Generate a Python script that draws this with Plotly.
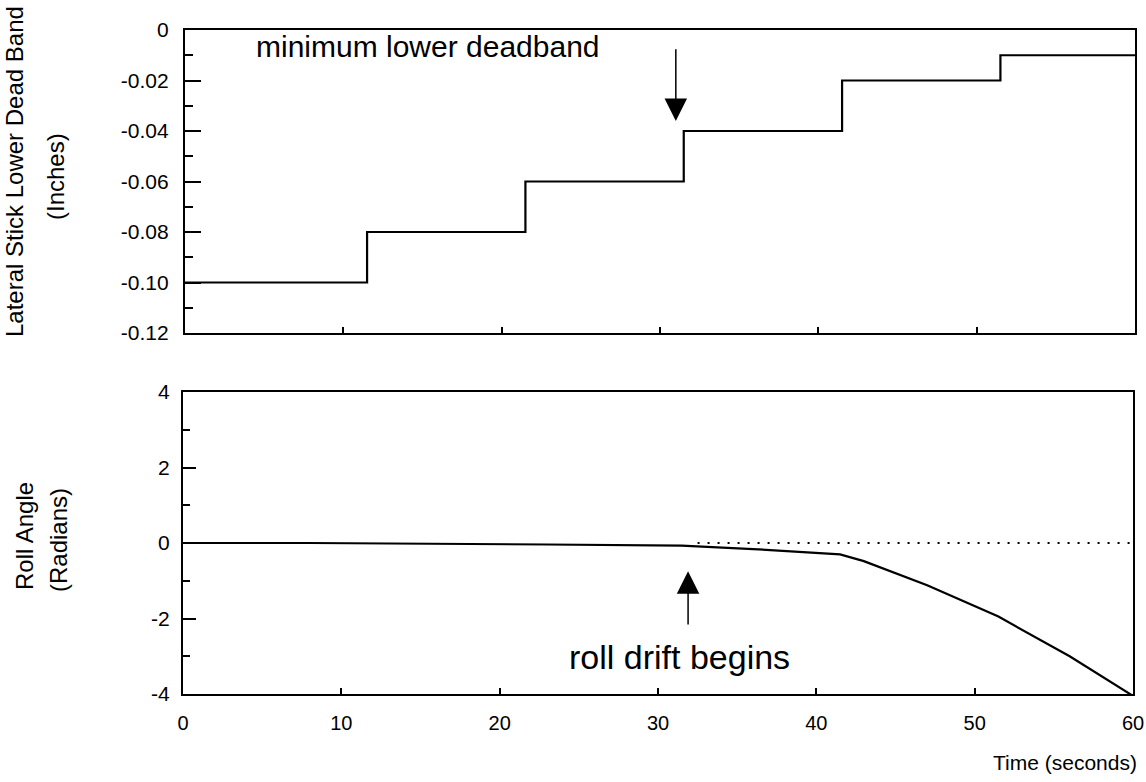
import plotly.graph_objects as go

# ---- data ----
step_time = [0, 11.5, 21.5, 31.5, 41.5, 51.5, 60]
deadband = [-0.10, -0.08, -0.06, -0.04, -0.02, -0.01, -0.01]

roll_time = [0, 8, 23, 31.5, 36, 41.5, 43, 47, 51.5, 56, 60]
roll_angle = [0, 0, -0.04, -0.07, -0.16, -0.30, -0.48, -1.12, -1.95, -3.0, -4.05]

ref_time = [32.5, 60]
ref_angle = [0, 0]

x_ticks = [0, 10, 20, 30, 40, 50, 60]
top_ticks = [0, -0.02, -0.04, -0.06, -0.08, -0.10, -0.12]
top_labels = ["0", "-0.02", "-0.04", "-0.06", "-0.08", "-0.10", "-0.12"]
bot_ticks = [4, 2, 0, -2, -4]
bot_labels = ["4", "2", "0", "-2", "-4"]

FONT = "Liberation Sans, Arial, sans-serif"
W, H = 1146, 782

fig = go.Figure()
fig.add_trace(go.Scatter(x=step_time, y=deadband, mode="lines", line=dict(color="black", width=2.2, shape="hv"),
                         xaxis="x", yaxis="y", showlegend=False))
fig.add_trace(go.Scatter(x=ref_time, y=ref_angle, mode="lines", line=dict(color="black", width=2.2, dash="2px,8px"),
                         xaxis="x2", yaxis="y2", showlegend=False))
fig.add_trace(go.Scatter(x=roll_time, y=roll_angle, mode="lines", line=dict(color="black", width=2.2),
                         xaxis="x2", yaxis="y2", showlegend=False))

def px_x(p):
    return p / W

def px_y(p):
    return 1 - p / H

axis_common = dict(showline=True, linecolor="black", linewidth=2.2, mirror=True, showgrid=False, zeroline=False,
                   ticks="inside", tickcolor="black", tickwidth=1.5, ticklabeloverflow="allow", automargin=False)

fig.update_layout(
    width=W, height=H, margin=dict(l=0, r=0, t=0, b=0, autoexpand=False),
    paper_bgcolor="white", plot_bgcolor="white",
    xaxis=dict(domain=[px_x(185), px_x(1135)], range=[0, 60], anchor="y", tickvals=x_ticks,
               showticklabels=False, ticklen=6, **axis_common),
    yaxis=dict(domain=[px_y(333), px_y(30)], range=[-0.12, 0], anchor="x", tickvals=top_ticks,
               ticktext=top_labels, ticklen=16, ticklabelstandoff=10,
               tickfont=dict(family=FONT, size=21, color="black"),
               minor=dict(dtick=0.01, tick0=0, ticklen=8, ticks="inside", tickcolor="black", tickwidth=1.5),
               **axis_common),
    xaxis2=dict(domain=[px_x(183), px_x(1133)], range=[0, 60], anchor="y2", tickvals=x_ticks,
                ticklen=6, ticklabelstandoff=10,
                tickfont=dict(family=FONT, size=20, color="black"), **axis_common),
    yaxis2=dict(domain=[px_y(694), px_y(392)], range=[-4, 4], anchor="x2", tickvals=bot_ticks,
                ticktext=bot_labels, ticklen=13, ticklabelstandoff=7,
                tickfont=dict(family=FONT, size=21, color="black"),
                minor=dict(dtick=1, tick0=0, ticklen=7, ticks="inside", tickcolor="black", tickwidth=1.5),
                **axis_common),
)

ann_font = dict(family=FONT, size=24, color="black")
for text, x, y in [("Lateral Stick Lower Dead Band", 14, 172), ("(Inches)", 55, 177),
                   ("Roll Angle", 24, 536), ("(Radians)", 58, 540)]:
    fig.add_annotation(text=text, xref="paper", yref="paper", x=px_x(x), y=px_y(y), showarrow=False,
                       textangle=-90, xanchor="center", yanchor="middle", font=ann_font)

fig.add_annotation(text="Time (seconds)", xref="paper", yref="paper", x=px_x(1139), y=px_y(762),
                   showarrow=False, xanchor="right", yanchor="middle",
                   font=dict(family=FONT, size=21, color="black"))

# annotation texts
fig.add_annotation(text="minimum lower deadband", xref="paper", yref="paper", x=px_x(428), y=px_y(47),
                   showarrow=False, xanchor="center", yanchor="middle",
                   font=dict(family=FONT, size=30, color="black"))
fig.add_annotation(text="roll drift begins", xref="paper", yref="paper", x=px_x(679), y=px_y(657),
                   showarrow=False, xanchor="center", yanchor="middle",
                   font=dict(family=FONT, size=34, color="black"))

# arrows
fig.add_annotation(x=31.0, y=-0.036, ax=31.0, ay=-0.007, xref="x", yref="y", axref="x", ayref="y",
                   text="", showarrow=True, arrowhead=2, arrowsize=3, arrowwidth=1.5, arrowcolor="black")
fig.add_annotation(x=31.9, y=-0.75, ax=31.9, ay=-2.2, xref="x2", yref="y2", axref="x2", ayref="y2",
                   text="", showarrow=True, arrowhead=2, arrowsize=3, arrowwidth=1.5, arrowcolor="black")

fig.write_html("out.html")
